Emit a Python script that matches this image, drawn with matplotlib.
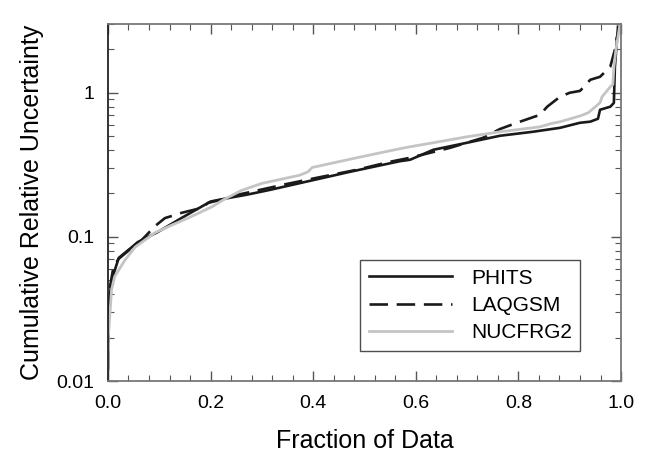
import matplotlib
matplotlib.use("Agg")
import matplotlib.pyplot as plt
from matplotlib.ticker import MultipleLocator, LogLocator, FixedLocator, NullFormatter

plt.rcParams['font.family'] = ['Liberation Sans', 'DejaVu Sans']

# PHITS (solid black)
phits_x = [0.0, 0.0006, 0.007, 0.021, 0.045, 0.058, 0.097, 0.143, 0.2, 0.238, 0.27, 0.316,
           0.374, 0.472, 0.569, 0.589, 0.634, 0.70, 0.764, 0.828, 0.881, 0.92, 0.94, 0.955,
           0.959, 0.979, 0.986, 0.988, 0.992, 0.994]
phits_y = [0.012, 0.031, 0.050, 0.0715, 0.084, 0.092, 0.108, 0.135, 0.176, 0.187, 0.196, 0.212,
           0.236, 0.283, 0.335, 0.343, 0.402, 0.45, 0.503, 0.536, 0.571, 0.619, 0.63, 0.66,
           0.762, 0.80, 0.85, 1.515, 2.33, 2.87]

# LAQGSM (dashed black)
laq_x = [0.0, 0.0008, 0.004, 0.01, 0.02, 0.043, 0.062, 0.092, 0.111, 0.131, 0.144, 0.183,
         0.195, 0.228, 0.253, 0.349, 0.407, 0.485, 0.55, 0.589, 0.667, 0.731, 0.764, 0.797,
         0.842, 0.856, 0.881, 0.90, 0.92, 0.94, 0.959, 0.979, 0.988, 0.992]
laq_y = [0.012, 0.025, 0.045, 0.06, 0.07, 0.082, 0.092, 0.119, 0.135, 0.142, 0.147, 0.159,
         0.172, 0.184, 0.196, 0.233, 0.257, 0.292, 0.332, 0.354, 0.415, 0.487, 0.56, 0.619,
         0.703, 0.80, 0.938, 1.0, 1.03, 1.23, 1.29, 1.515, 1.99, 2.45]

# NUCFRG2 (light gray)
nuc_x = [0.0, 0.0006, 0.007, 0.013, 0.033, 0.053, 0.092, 0.125, 0.156, 0.203, 0.224, 0.26,
         0.30, 0.374, 0.39, 0.398, 0.485, 0.569, 0.589, 0.634, 0.70, 0.764, 0.842, 0.862,
         0.881, 0.92, 0.936, 0.959, 0.963, 0.979, 0.984, 0.986, 0.99, 0.998]
nuc_y = [0.010, 0.020, 0.043, 0.053, 0.069, 0.085, 0.107, 0.121, 0.135, 0.162, 0.18, 0.21,
         0.235, 0.268, 0.283, 0.303, 0.354, 0.409, 0.422, 0.45, 0.495, 0.536, 0.58, 0.609,
         0.629, 0.69, 0.726, 0.852, 0.938, 1.10, 1.14, 1.5, 1.99, 3.0]

fig = plt.figure(figsize=(6.6, 4.61), dpi=100)
ax = fig.add_axes([0.1636, 0.1735, 0.7774, 0.7745])

ax.plot(phits_x, phits_y, color='#1a1a1a', lw=1.9, label='PHITS')
ax.plot(laq_x, laq_y, color='#1a1a1a', lw=1.9, dashes=(7, 3.3), label='LAQGSM')
ax.plot(nuc_x, nuc_y, color='#c4c4c4', lw=2.0, label='NUCFRG2')

ax.set_yscale('log')
ax.set_xlim(0, 1.0)
ax.set_ylim(0.01, 3.0)

ax.set_xticks([0.0, 0.2, 0.4, 0.6, 0.8, 1.0])
ax.set_xticklabels(['0.0', '0.2', '0.4', '0.6', '0.8', '1.0'])
ax.xaxis.set_minor_locator(MultipleLocator(0.04))
ax.yaxis.set_major_locator(FixedLocator([0.01, 0.1, 1]))
ax.set_yticklabels(['0.01', '0.1', '1'])
ax.yaxis.set_minor_locator(LogLocator(base=10, subs=range(2, 10)))
ax.yaxis.set_minor_formatter(NullFormatter())

ax.tick_params(which='both', direction='in', top=True, right=True, color='#555555')
ax.tick_params(which='major', length=7, width=1.0, labelsize=14, pad=10)
ax.tick_params(which='minor', length=4, width=0.8)

for s in ['top', 'right', 'bottom']:
    ax.spines[s].set_color('#777777')
    ax.spines[s].set_linewidth(1.3)
ax.spines['left'].set_color('#222222')
ax.spines['left'].set_linewidth(1.3)

ax.set_xlabel('Fraction of Data', fontsize=18, labelpad=12)
ax.set_ylabel('Cumulative Relative Uncertainty', fontsize=18, labelpad=9)

leg = ax.legend(loc='lower right', bbox_to_anchor=(0.92, 0.085), fontsize=15,
                frameon=True, fancybox=False, edgecolor='#222222', handlelength=4.0,
                handletextpad=0.9, borderpad=0.4, labelspacing=0.4, borderaxespad=0)
leg.get_frame().set_linewidth(1.0)

fig.savefig('out.png', dpi=100)
